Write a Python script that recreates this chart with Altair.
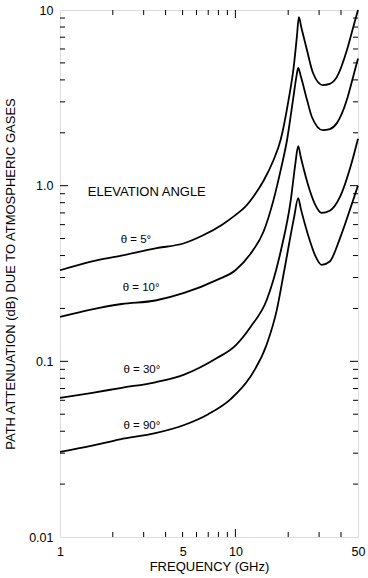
import altair as alt
import pandas as pd

# ---- data ----
f_5 = [1, 1.5, 2.24, 3.5, 5.1, 6.5, 8.4, 10, 11.4, 12.8, 14.5, 16.5, 18.1, 20.1, 21.5, 22.4, 23.0, 23.8, 25.6, 27.7, 31.5, 34.5, 37.9, 43.2, 47, 50]
v_5 = [0.33, 0.37, 0.40, 0.44, 0.47, 0.52, 0.60, 0.68, 0.76, 0.88, 1.07, 1.4, 1.82, 3.08, 4.74, 7.0, 9.1, 7.9, 5.9, 4.38, 3.74, 3.8, 4.16, 5.9, 8.0, 10]

f_10 = [1, 1.5, 2.25, 3.5, 5.1, 7.8, 10, 12.2, 14.5, 16.5, 18.2, 19.7, 21.3, 22.3, 22.8, 23.6, 25.6, 27.3, 31.5, 34.5, 37.9, 43.2, 47, 50]
v_10 = [0.179, 0.197, 0.212, 0.222, 0.245, 0.29, 0.33, 0.41, 0.55, 0.83, 1.25, 1.82, 3.08, 4.2, 4.68, 4.2, 3.08, 2.46, 2.07, 2.1, 2.27, 3.08, 4.2, 5.3]

f_30 = [1, 1.5, 2.25, 3.5, 5.1, 7.8, 10, 12.2, 15.1, 18.2, 20.7, 22.0, 22.8, 23.6, 26.5, 28.5, 31, 34.5, 39.4, 46, 50]
v_30 = [0.062, 0.066, 0.0707, 0.076, 0.084, 0.104, 0.123, 0.157, 0.224, 0.43, 0.83, 1.35, 1.68, 1.45, 0.945, 0.78, 0.70, 0.72, 0.86, 1.35, 1.85]

f_90 = [1, 1.5, 2.2, 3.5, 5.1, 7, 9.4, 12, 15.1, 17.2, 19.0, 21.6, 22.8, 23.6, 26.5, 28.5, 31, 34.5, 39.4, 46, 50]
v_90 = [0.0305, 0.033, 0.036, 0.039, 0.0434, 0.05, 0.061, 0.08, 0.125, 0.195, 0.33, 0.66, 0.85, 0.74, 0.49, 0.40, 0.354, 0.37, 0.5, 0.78, 1.0]

curve_names = ["5", "10", "30", "90"]

label_text = ["θ = 5°", "θ = 10°", "θ = 30°", "θ = 90°"]
label_f = [2.71, 2.9, 2.93, 2.93]
label_v = [0.49, 0.263, 0.089, 0.043]

heading_text = ["ELEVATION ANGLE"]
heading_f = [1.44]
heading_v = [0.92]

x_label_values = [1, 5, 10, 50]
y_label_values = [0.01, 0.1, 1, 10]
x_minor = [2, 3, 4, 5, 6, 7, 8, 9, 20, 30, 40]
x_major = [10]
y_minor = [m * d for d in (0.01, 0.1, 1) for m in range(2, 10)]
y_major = [0.1, 1]

W, H = 298, 527

rows = []
for name, fs, vs in zip(curve_names, [f_5, f_10, f_30, f_90], [v_5, v_10, v_30, v_90]):
    for i, (f, v) in enumerate(zip(fs, vs)):
        rows.append({"curve": name, "f": f, "v": v, "i": i})
df = pd.DataFrame(rows)

xs = alt.Scale(type="log", domain=[1, 50], nice=False)
ys = alt.Scale(type="log", domain=[0.01, 10], nice=False)

FONT = "Liberation Sans"

lines = alt.Chart(df).mark_line(color="black", strokeWidth=1.8, interpolate="monotone").encode(
    x=alt.X("f:Q", scale=xs, axis=alt.Axis(
        values=x_label_values, title="FREQUENCY (GHz)", ticks=False, domain=False, grid=False,
        labelFont=FONT, labelFontSize=12.5, labelColor="black", labelPadding=8,
        titleFont=FONT, titleFontSize=13, titleFontWeight="normal", titleColor="black", titlePadding=3,
        labelFlush=False)),
    y=alt.Y("v:Q", scale=ys, axis=alt.Axis(
        values=y_label_values, title="PATH ATTENUATION (dB) DUE TO ATMOSPHERIC GASES",
        labelExpr="datum.value >= 10 ? '10' : datum.value >= 1 ? '1.0' : datum.value >= 0.1 ? '0.1' : '0.01'",
        ticks=False, domain=False, grid=False,
        labelFont=FONT, labelFontSize=12.5, labelColor="black", labelPadding=7,
        titleFont=FONT, titleFontSize=13, titleFontWeight="normal", titleColor="black", titlePadding=11,
        labelFlush=False)),
    detail="curve:N",
    order="i:Q",
)

lab_df = pd.DataFrame({"t": label_text, "f": label_f, "v": label_v})
labels = alt.Chart(lab_df).mark_text(font=FONT, fontSize=11.5, color="black", align="center", baseline="middle").encode(
    x=alt.X("f:Q", scale=xs), y=alt.Y("v:Q", scale=ys), text="t:N")

head_df = pd.DataFrame({"t": heading_text, "f": heading_f, "v": heading_v})
heading = alt.Chart(head_df).mark_text(font=FONT, fontSize=13, color="black", align="left", baseline="middle").encode(
    x=alt.X("f:Q", scale=xs), y=alt.Y("v:Q", scale=ys), text="t:N")

def yticks(vals, length):
    d = pd.DataFrame({"v": vals})
    left = alt.Chart(d).mark_rule(color="black", strokeWidth=1).encode(
        y=alt.Y("v:Q", scale=ys), x=alt.value(0), x2=alt.value(length))
    right = alt.Chart(d).mark_rule(color="black", strokeWidth=1).encode(
        y=alt.Y("v:Q", scale=ys), x=alt.value(W - length), x2=alt.value(W))
    return [left, right]

def xticks(vals, length):
    d = pd.DataFrame({"f": vals})
    bottom = alt.Chart(d).mark_rule(color="black", strokeWidth=1).encode(
        x=alt.X("f:Q", scale=xs), y=alt.value(H), y2=alt.value(H - length))
    top = alt.Chart(d).mark_rule(color="black", strokeWidth=1).encode(
        x=alt.X("f:Q", scale=xs), y=alt.value(0), y2=alt.value(length))
    return [bottom, top]

tick_layers = yticks(y_minor, 5) + yticks(y_major, 8) + xticks(x_minor, 5) + xticks(x_major, 8)

chart = alt.layer(lines, labels, heading, *tick_layers).properties(
    width=W, height=H,
    autosize=alt.AutoSizeParams(type="none"),
    padding={"left": 60, "top": 10, "right": 10, "bottom": 41},
).configure_view(stroke="black", strokeWidth=1.5).configure(background="white")

chart.save("out.html", embed_options={"renderer": "svg", "actions": False})
